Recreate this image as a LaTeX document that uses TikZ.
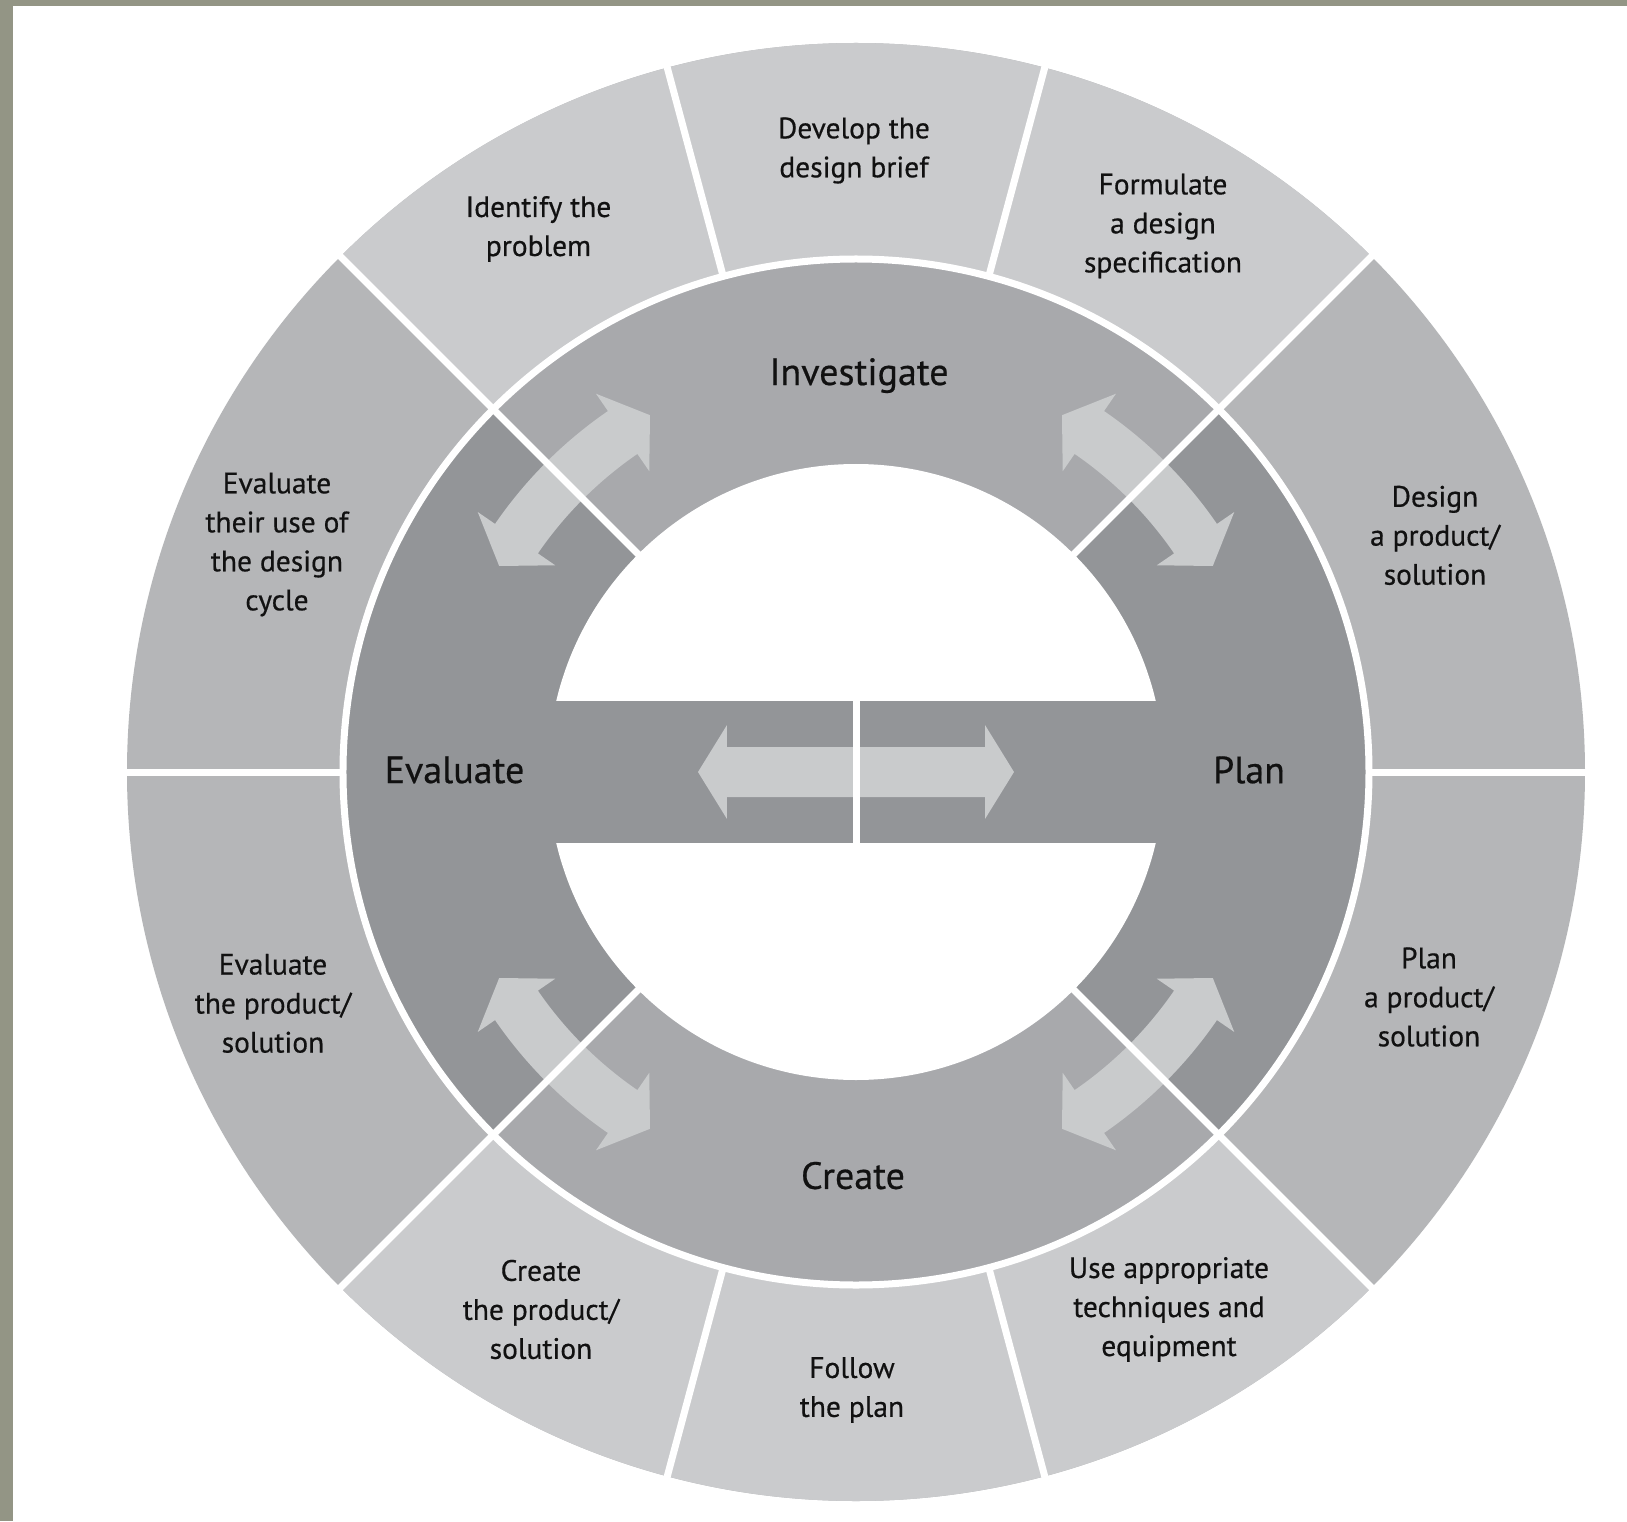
\documentclass[tikz,border=0pt]{standalone}
\usepackage{fontspec}
\setmainfont{PT Sans}
\newfontfamily\labelfont{PT Sans}[FakeBold=0.5]
\definecolor{bordc}{HTML}{939585}
\definecolor{outerlight}{HTML}{CACBCD}
\definecolor{outerdark}{HTML}{B5B6B8}
\definecolor{innerlight}{HTML}{A8A9AC}
\definecolor{innerdark}{HTML}{939598}
\definecolor{arrowc}{HTML}{C9CBCC}
\definecolor{txt}{HTML}{111111}
\begin{document}
\begin{tikzpicture}[x=1pt,y=1pt,
  small/.style={font=\labelfont\fontsize{29.5}{39}\selectfont, align=center, text=txt, inner sep=0pt},
  big/.style={font=\labelfont\fontsize{38}{44}\selectfont, text=txt, inner sep=0pt},
  sepline/.style={white, line width=7pt},
  arrowfill/.style={fill=arrowc}]
\useasboundingbox (-856,-749) rectangle (771,772);
\fill[white] (-856,-749) rectangle (771,772);
\fill[bordc] (-856,766) rectangle (771,772);
\fill[bordc] (-856,-749) rectangle (-843,772);
% outer ring
\fill[outerdark] (0,0) circle[radius=729];
\fill[outerlight] (0,0) -- (45:729) arc[start angle=45,end angle=135,radius=729] -- cycle;
\fill[outerlight] (0,0) -- (225:729) arc[start angle=225,end angle=315,radius=729] -- cycle;
% inner ring
\fill[innerdark] (0,0) circle[radius=513];
\fill[innerlight] (0,0) -- (45:513) arc[start angle=45,end angle=135,radius=513] -- cycle;
\fill[innerlight] (0,0) -- (225:513) arc[start angle=225,end angle=315,radius=513] -- cycle;
% hole and bar
\fill[white] (0,0) circle[radius=308];
\fill[innerdark] (-310,-71) rectangle (310,71);
% curved double arrows
\foreach \c in {45,135,225,315} {
  \fill[arrowfill] ({\c+15}:412) -- ({\c+10.5}:459) -- ({\c+10.5}:438)
    arc[start angle={\c+10.5}, end angle={\c-10.5}, radius=438]
    -- ({\c-10.5}:459) -- ({\c-15}:412) -- ({\c-10.5}:365) -- ({\c-10.5}:386)
    arc[start angle={\c-10.5}, end angle={\c+10.5}, radius=386]
    -- ({\c+10.5}:365) -- cycle;
}
% horizontal double arrow
\fill[arrowfill] (-158,0) -- (-129,47) -- (-129,25) -- (129,25) -- (129,47) -- (158,0)
  -- (129,-47) -- (129,-25) -- (-129,-25) -- (-129,-47) -- cycle;
% white separators
\draw[sepline] (0,0) circle[radius=513];
\foreach \a in {45,135,225,315} \draw[sepline] (\a:305) -- (\a:736);
\foreach \a in {75,105,-75,-105,0,180} \draw[sepline] (\a:513) -- (\a:736);
\draw[sepline] (0,-71) -- (0,71);
% outer texts
\node[small] (identify) at (-317.5,543) {Identify the\\problem};
\node[small] (develop) at (-2,621.5) {Develop the\\design brief};
\node[small] (formulate) at (307,546) {Formulate\\a design\\specification};
\node[small] (design) at (579,236.6) {Design\\a product/\\solution};
\node[small] (planprod) at (573,-225) {Plan\\a product/\\solution};
\node[small] (useapp) at (313,-537.5) {Use appropriate\\techniques and\\equipment};
\node[small] (follow) at (-4,-618) {Follow\\the plan};
\node[small] (createprod) at (-315,-537.5) {Create\\the product/\\solution};
\node[small] (evalprod) at (-583,-231.4) {Evaluate\\the product/\\solution};
\node[small] (evaluse) at (-579,227.5) {Evaluate\\their use of\\the design\\cycle};
% inner texts
\node[big] (investigate) at (3,396.4) {Investigate};
\node[big] (plan) at (393,2) {Plan};
\node[big] (evaluate) at (-401.5,2) {Evaluate};
\node[big] (create) at (-3,-403.6) {Create};
\end{tikzpicture}
\end{document}
